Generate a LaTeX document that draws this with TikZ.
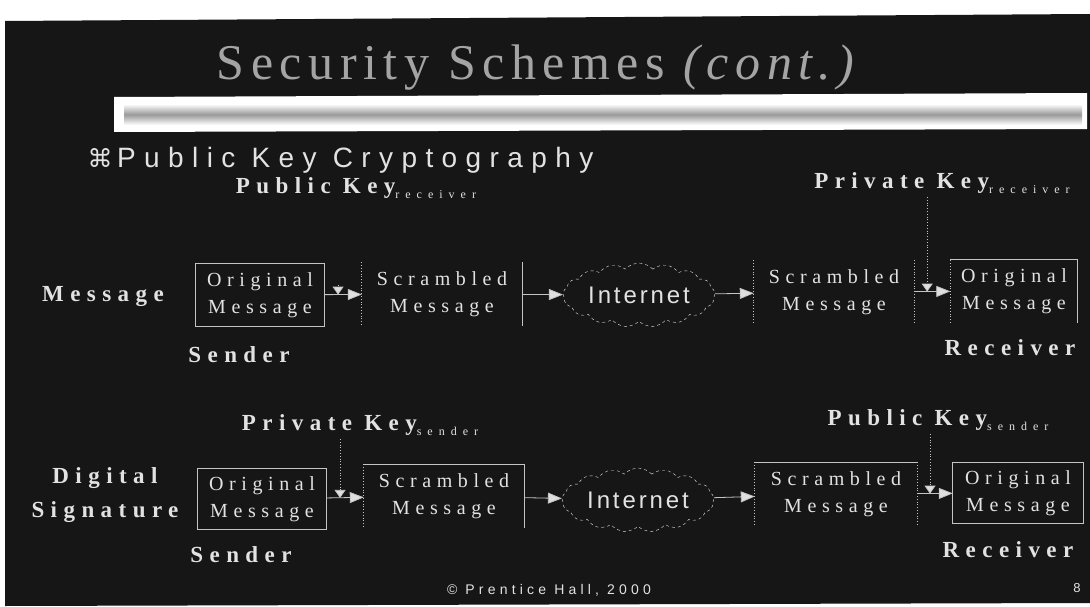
\documentclass[tikz,border=0pt]{standalone}
\usepackage{fontspec}
\setmainfont{Liberation Serif}
\newfontfamily\wideser[LetterSpace=28]{Liberation Serif}
\newfontfamily\ttlfont[LetterSpace=13]{Liberation Serif}
\newfontfamily\subfont[LetterSpace=50]{Liberation Serif}
\newfontfamily\widesans[LetterSpace=30]{Liberation Sans}
\newfontfamily\netfont[LetterSpace=12]{Liberation Sans}
\newfontfamily\symfont{DejaVu Sans}
\usetikzlibrary{arrows.meta,positioning,shapes.symbols,calc}
\definecolor{slide}{HTML}{161616}
\definecolor{ink}{HTML}{E2E2E2}
\definecolor{line}{HTML}{C4C4C4}
\definecolor{ttlc}{HTML}{A4A4A4}
\newcommand{\keysub}[1]{\raisebox{-5pt}{\subfont\mdseries\fontsize{12}{13}\selectfont#1}}

\begin{document}
\begin{tikzpicture}[x=1pt,y=-1pt,>={Triangle[fill=line!55,length=14pt,width=11pt]}]
\tikzstyle{bold}=[ink,font=\wideser\bfseries\fontsize{23}{26}\selectfont]
\tikzstyle{msg}=[ink,minimum height=63pt,align=center,inner sep=0pt,font=\wideser\fontsize{20}{27}\selectfont]
\tikzstyle{net}=[cloud,cloud puffs=17,cloud puff arc=95,aspect=2.7,draw=line,dashed,ink,minimum width=152pt,minimum height=58pt,inner sep=0pt,font=\netfont\fontsize{24}{26}\selectfont]
\tikzstyle{conn}=[line,->,thick]
\tikzstyle{key}=[line,dotted,thick,-{Triangle[fill=line!55,length=8pt,width=11pt]}]
\useasboundingbox (0,0) rectangle (1090,607);
\fill[white] (0,0) rectangle (1090,607);
\fill[slide] (5,21) -- (1090,14) -- (1090,603) -- (5,606) -- cycle;
\fill[white] (114,97) -- (1087,93) -- (1087,129) -- (114,132) -- cycle;
\shade[top color=white,bottom color=white,middle color=gray!80] (124,104) rectangle (1082,125);
\node[ttlc,font=\ttlfont\fontsize{50}{54}\selectfont] (ttl) at (539,68) {Security Schemes \textit{(cont.)}};
\node[ink,anchor=west,font=\widesans\fontsize{28}{32}\selectfont] (hd) at (84,160) {{\symfont\fontsize{25}{25}\selectfont ⌘}\,Public Key Cryptography};
\node[bold] (pkr) at (356,188) {Public Key\keysub{receiver}}; \node[bold] (prr) at (942,183) {Private Key\keysub{receiver}};
\node[bold] (prs) at (360,425) {Private Key\keysub{sender}}; \node[bold] (pks) at (938,420) {Public Key\keysub{sender}};
\node[bold] (m) at (103,297) {Message}; \node[bold,align=center,font=\wideser\bfseries\fontsize{23}{34}\selectfont] (ds) at (105,495) {Digital\\Signature};
\node[bold] (snd1) at (239,355) {Sender}; \node[bold] (rcv1) at (1010,348) {Receiver};
\node[bold] (snd2) at (241,555) {Sender}; \node[bold] (rcv2) at (1008,550) {Receiver};
\node[msg,minimum width=129pt] (o1) at (260,295) {Original\\Message};
\node[msg,minimum width=160pt] (s1) at (442,294) {Scrambled\\Message};
\node[net] (c1) at (639,295) {Internet};
\node[msg,minimum width=160pt] (s2) at (834,292) {Scrambled\\Message};
\node[msg,minimum width=127pt] (o2) at (1014,291) {Original\\Message};
\node[msg,minimum width=129pt,minimum height=61pt] (o3) at (262,499) {Original\\Message};
\node[msg,minimum width=160pt] (s3) at (444,496) {Scrambled\\Message};
\node[net,minimum height=62pt] (c2) at (638,500) {Internet};
\node[msg,minimum width=162pt] (s4) at (836,494) {Scrambled\\Message};
\node[msg,minimum width=130pt,minimum height=61pt] (o4) at (1018,493) {Original\\Message};
\draw[line,thick] (o1.north west) rectangle (o1.south east);
\draw[line,dotted,thick] (s1.north west) -- (s1.south west); \draw[line,thick] (s1.north east) -- (s1.south east);
\draw[line,dotted,thick] (s2.north west) -- (s2.south west); \draw[line,dotted,thick] (s2.north east) -- (s2.south east);
\draw[line,dotted,thick] (o2.south west) -- (o2.north west); \draw[line,thick] (o2.north west) -- (o2.north east) -- (o2.south east);
\draw[line,thick] (o3.north west) rectangle (o3.south east);
\draw[line,dotted,thick] (s3.north west) -- (s3.south west); \draw[line,thick] (s3.north west) -- (s3.north east) -- (s3.south east);
\draw[line,dotted,thick] (s4.north west) -- (s4.south west); \draw[line,thick] (s4.north west) -- (s4.north east); \draw[line,dotted,thick] (s4.north east) -- (s4.south east);
\draw[line,thick] (o4.north west) rectangle (o4.south east);
\draw[conn] (o1) -- (s1); \draw[conn] (s1) -- (c1); \draw[conn] (c1) -- (s2); \draw[conn] (s2) -- (o2);
\draw[conn] (o3) -- (s3); \draw[conn] (s3) -- (c2); \draw[conn] (c2) -- (s4); \draw[conn] (s4) -- (o4);
\coordinate (k1) at ($(o1.east)!0.36!(s1.west)$); \coordinate (k2) at ($(s2.east)!0.36!(o2.west)$);
\coordinate (k3) at ($(o3.east)!0.36!(s3.west)$); \coordinate (k4) at ($(s4.east)!0.36!(o4.west)$);
\draw[key] ($(k1)+(0,-10)$) -- (k1); \draw[key] (k2 |- prr.south) -- (k2);
\draw[key] (k3 |- prs.south) -- (k3); \draw[key] (k4 |- pks.south) -- (k4);
\node[ink,font=\widesans\fontsize{14}{16}\selectfont] (cr) at (549,590) {© Prentice Hall, 2000};
\node[ink,font=\widesans\fontsize{13}{15}\selectfont] (pg) at (1077,588) {8};
\end{tikzpicture}
\end{document}
